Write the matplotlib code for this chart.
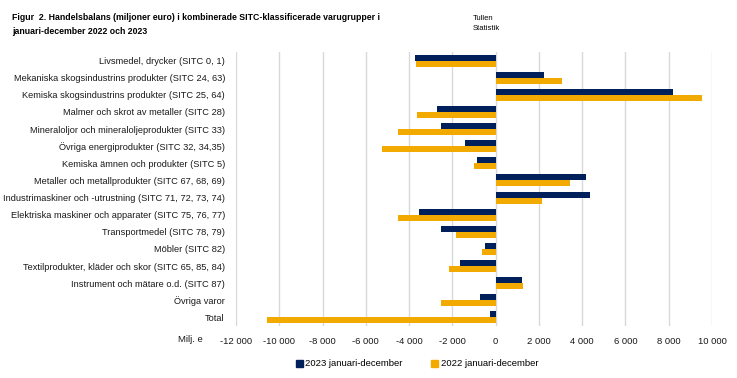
import matplotlib
matplotlib.use("Agg")
import matplotlib.pyplot as plt
from matplotlib.patches import Patch
import numpy as np

categories = [
    "Livsmedel, drycker (SITC 0, 1)",
    "Mekaniska skogsindustrins produkter (SITC 24, 63)",
    "Kemiska skogsindustrins produkter (SITC 25, 64)",
    "Malmer och skrot av metaller (SITC 28)",
    "Mineraloljor och mineraloljeprodukter (SITC 33)",
    "Övriga energiprodukter (SITC 32, 34,35)",
    "Kemiska ämnen och produkter (SITC 5)",
    "Metaller och metallprodukter (SITC 67, 68, 69)",
    "Industrimaskiner och -utrustning (SITC 71, 72, 73, 74)",
    "Elektriska maskiner och apparater (SITC 75, 76, 77)",
    "Transportmedel (SITC 78, 79)",
    "Möbler (SITC 82)",
    "Textilprodukter, kläder och skor (SITC 65, 85, 84)",
    "Instrument och mätare o.d. (SITC 87)",
    "Övriga varor",
    "Total",
]
values_2023 = [-3750, 2220, 8220, -2720, -2540, -1430, -880, 4160, 4340,
               -3550, -2540, -510, -1660, 1230, -700, -280]
values_2022 = [-3700, 3050, 9560, -3650, -4530, -5270, -1020, 3420, 2120,
               -4530, -1850, -650, -2170, 1280, -2540, -10580]
series_labels = ["2023 januari-december", "2022 januari-december"]
xticks = list(range(-12000, 10001, 2000))
xtick_labels = [f"{v:,}".replace(",", " ") for v in xticks]

navy = "#00205B"
orange = "#F2A900"
plt.rcParams["font.family"] = ["Liberation Sans", "DejaVu Sans"]

fig = plt.figure(figsize=(7.37, 3.78), dpi=100)
ax = fig.add_axes([236 / 737, 1 - 326 / 378, (712 - 236) / 737, (326 - 52) / 378])

y = np.arange(len(categories))
h = 0.35
ax.barh(y - h / 2, values_2023, height=h, color=navy, zorder=3)
ax.barh(y + h / 2, values_2022, height=h, color=orange, zorder=3)

ax.set_ylim(len(categories) - 0.5, -0.5)
ax.set_xlim(-12000, 10000)
ax.set_yticks(y)
ax.set_yticklabels(categories, fontsize=6.7, color="#1a1a1a")
ax.set_xticks(xticks)
ax.set_xticklabels(xtick_labels, fontsize=6.8, color="#1a1a1a")
ax.tick_params(axis="both", length=0)
ax.tick_params(axis="y", pad=8)
ax.tick_params(axis="x", pad=8)
ax.grid(axis="x", color="#d9d9d9", linewidth=1.0, zorder=0)
for s in ax.spines.values():
    s.set_visible(False)

fig.text(178 / 737, 1 - 339 / 378, "Milj. e", fontsize=6.8, color="#1a1a1a",
         va="center", ha="left")

fig.text(12 / 737, 1 - 18 / 378,
         "Figur  2. Handelsbalans (miljoner euro) i kombinerade SITC-klassificerade varugrupper i",
         fontsize=6.3, fontweight="bold", va="center", ha="left")
fig.text(12 / 737, 1 - 32 / 378, "januari-december 2022 och 2023",
         fontsize=6.3, fontweight="bold", va="center", ha="left")
fig.text(473 / 737, 1 - 18 / 378, "Tullen", fontsize=5.5,
         va="center", ha="left")
fig.text(473 / 737, 1 - 28 / 378, "Statistik", fontsize=5.5,
         va="center", ha="left")

handles = [Patch(color=navy), Patch(color=orange)]
fig.legend(handles, series_labels, loc="center", bbox_to_anchor=(417 / 737, 1 - 364 / 378),
           ncol=2, frameon=False, fontsize=6.8, handlelength=0.7, handleheight=0.7,
           handletextpad=0.3, columnspacing=3.0)

fig.savefig("out.png", dpi=100)
